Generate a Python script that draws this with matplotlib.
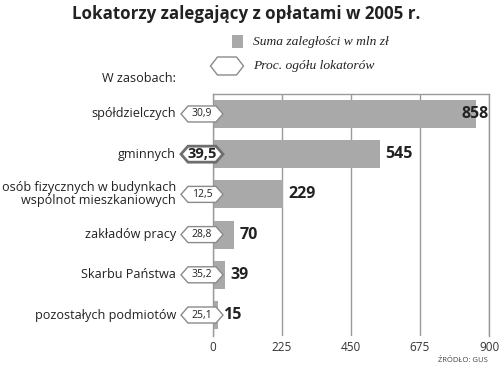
import matplotlib
matplotlib.use("Agg")
import matplotlib.pyplot as plt
from matplotlib.patches import Polygon, Rectangle
from matplotlib.transforms import ScaledTranslation, blended_transform_factory

categories = ["spółdzielczych", "gminnych", "osób fizycznych w budynkach\nwspólnot mieszkaniowych",
              "zakładów pracy", "Skarbu Państwa", "pozostałych podmiotów"]
values = [858, 545, 229, 70, 39, 15]
percents = ["30,9", "39,5", "12,5", "28,8", "35,2", "25,1"]
highlight = [False, True, False, False, False, False]
xticks = [0, 225, 450, 675, 900]

bar_color = "#a9a9a9"
grid_color = "#9a9a9a"
text_color = "#222222"
sans = ["Open Sans", "DejaVu Sans"]
serif = ["Liberation Serif", "DejaVu Serif"]

fig = plt.figure(figsize=(5, 3.8), dpi=100)
ax = fig.add_axes([0.426, 0.116, 0.552, 0.637])

y = list(range(len(categories)))
ax.barh(y, values, height=0.7, color=bar_color, zorder=2)
ax.set_xlim(0, 900)
ax.set_ylim(5.52, -0.5)

ax.set_xticks(xticks)
ax.set_xticklabels([str(t) for t in xticks], fontsize=8.5, color="#333333", family=sans)
ax.tick_params(axis="x", length=0, pad=4)
ax.set_yticks([])
ax.xaxis.grid(True, color=grid_color, linewidth=1, zorder=0)
ax.spines["bottom"].set_visible(False)
for s in ["left", "top", "right"]:
    ax.spines[s].set_color(grid_color)
    ax.spines[s].set_linewidth(1)

# value labels
for i, v in enumerate(values):
    if v > 800:
        ax.text(899, i, str(v), ha="right", va="center", fontsize=11.5, fontweight="bold",
                color=text_color, family=sans, zorder=4)
    else:
        ax.text(v + 18, i, str(v), ha="left", va="center", fontsize=11.5, fontweight="bold",
                color=text_color, family=sans, zorder=4)

blend = blended_transform_factory(ax.transAxes, ax.transData)

def hexagon(cx_in, cy_in, w, h, inset, base, lw, ec="#777777"):
    verts = [(cx_in - w / 2, cy_in), (cx_in - w / 2 + inset, cy_in + h / 2),
             (cx_in + w / 2 - inset, cy_in + h / 2), (cx_in + w / 2, cy_in),
             (cx_in + w / 2 - inset, cy_in - h / 2), (cx_in - w / 2 + inset, cy_in - h / 2)]
    return Polygon(verts, closed=True, facecolor="white", edgecolor=ec, linewidth=lw,
                   transform=fig.dpi_scale_trans + base, clip_on=False, zorder=5)

for i, (p, hl) in enumerate(zip(percents, highlight)):
    tr_base = ScaledTranslation(0, i, blend)
    patch = hexagon(-0.11, 0, 0.42, 0.16, 0.07, tr_base, 2.0 if hl else 1.0,
                    ec="#6e6e6e" if hl else "#8a8a8a")
    ax.add_patch(patch)
    ax.text(-11 / 276, i, p, transform=blend, ha="center", va="center",
            fontsize=10.5 if hl else 7.5, fontweight="bold" if hl else "normal",
            color=text_color, family=sans, zorder=6, clip_on=False)
    ax.text(-37 / 276, i, categories[i], transform=blend, ha="right", va="center",
            fontsize=9.1, color=text_color, family=sans, linespacing=1.0, clip_on=False)

# title
fig.text(0.492, 0.962, "Lokatorzy zalegający z opłatami w 2005 r.", ha="center", va="center",
         fontsize=12.2, fontweight="bold", color=text_color, family=sans)

# legend
fig.patches.append(Rectangle((232 / 500, 1 - 48 / 380), 11 / 500, 13 / 380,
                             transform=fig.transFigure, facecolor=bar_color, edgecolor="none"))
fig.text(253 / 500, 1 - 42 / 380, "Suma zaległości w mln zł", ha="left", va="center",
         fontsize=9.7, style="italic", color=text_color, family=serif)
lp = hexagon(0, 0, 0.33, 0.18, 0.07, ScaledTranslation(227 / 500, 1 - 66 / 380, fig.transFigure), 1.0,
             ec="#8a8a8a")
fig.patches.append(lp)
fig.text(253 / 500, 1 - 66 / 380, "Proc. ogółu lokatorów", ha="left", va="center",
         fontsize=9.7, style="italic", color=text_color, family=serif)

fig.text(176 / 500, 1 - 78 / 380, "W zasobach:", ha="right", va="center",
         fontsize=9.1, color=text_color, family=sans)

fig.text(488 / 500, 1 - 361 / 380, "ŹRÓDŁO: GUS", ha="right", va="center",
         fontsize=5.5, color="#444444", family=sans)

fig.savefig("out.png", dpi=100)
